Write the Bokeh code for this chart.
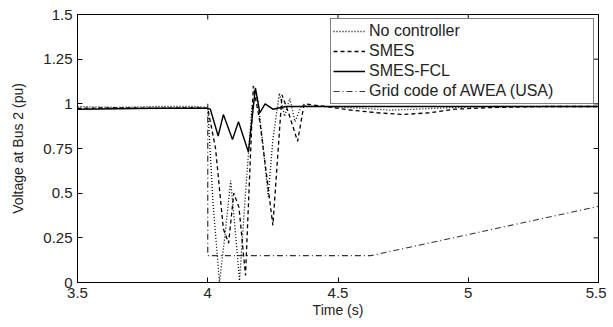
import math
from bokeh.plotting import figure
from bokeh.models import Legend, LegendItem, FixedTicker, Range1d
from bokeh.embed import file_html
from bokeh.resources import INLINE

# ---- data ----
nc_t = [3.5, 3.65, 3.8, 3.95, 4.0, 4.02, 4.045, 4.065, 4.088, 4.105, 4.122, 4.145,
        4.17, 4.19, 4.21, 4.232, 4.25, 4.275, 4.295, 4.315, 4.335, 4.36, 4.45,
        4.6, 4.7, 4.8, 4.95, 5.1, 5.3, 5.5]
nc_v = [0.985, 0.98, 0.985, 0.985, 0.98, 0.45, 0.0, 0.25, 0.57, 0.3, 0.01, 0.5,
        0.99, 1.04, 0.8, 0.48, 0.8, 1.06, 0.93, 1.03, 0.9, 0.99, 0.985,
        0.975, 0.965, 0.97, 0.98, 0.985, 0.985, 0.985]

smes_t = [3.5, 3.65, 3.8, 3.95, 4.0, 4.03, 4.06, 4.08, 4.1, 4.12, 4.145, 4.175,
          4.2, 4.25, 4.285, 4.31, 4.345, 4.37, 4.45, 4.55, 4.65, 4.75, 4.85,
          4.95, 5.1, 5.3, 5.5]
smes_v = [0.975, 0.978, 0.975, 0.978, 0.975, 0.75, 0.3, 0.22, 0.5, 0.42, 0.04, 1.1,
          0.9, 0.32, 1.05, 0.95, 0.79, 1.0, 0.985, 0.965, 0.95, 0.94, 0.95,
          0.97, 0.98, 0.985, 0.985]

fcl_t = [3.5, 3.8, 4.0, 4.01, 4.04, 4.06, 4.095, 4.118, 4.156, 4.183, 4.2, 4.22,
         4.25, 4.3, 4.5, 5.0, 5.5]
fcl_v = [0.97, 0.975, 0.975, 0.97, 0.82, 0.94, 0.80, 0.90, 0.73, 1.09, 0.95, 1.0,
         0.97, 0.985, 0.985, 0.985, 0.985]

grid_t = [4.0, 4.0, 4.625, 5.5]
grid_v = [1.0, 0.15, 0.15, 0.426]

x_ticks = [3.5, 4, 4.5, 5, 5.5]
x_labels = ["3.5", "4", "4.5", "5", "5.5"]
y_ticks = [0, 0.25, 0.5, 0.75, 1, 1.25, 1.5]
y_labels = ["0", "0.25", "0.5", "0.75", "1", "1.25", "1.5"]

series_names = ["No controller", "SMES", "SMES-FCL", "Grid code of AWEA (USA)"]

FONT = "Liberation Sans"
X0, X1, Y0, Y1 = 3.5, 5.5, 0, 1.5

p = figure(width=606, height=320, output_backend="svg", toolbar_location=None,
           x_range=Range1d(X0, X1), y_range=Range1d(Y0, Y1),
           min_border_left=77, min_border_right=8, min_border_top=14,
           min_border_bottom=35, x_axis_label="Time (s)",
           y_axis_label="Voltage at Bus 2 (pu)")
p.grid.visible = False
p.outline_line_color = "black"
p.outline_line_width = 1
p.background_fill_color = "white"
p.border_fill_color = "white"

def style_axis(ax, ticks, labels):
    ax.ticker = FixedTicker(ticks=ticks)
    ax.major_label_overrides = {t: l for t, l in zip(ticks, labels)}
    ax.major_tick_in = 5
    ax.major_tick_out = 0
    ax.minor_tick_line_color = None
    ax.axis_line_color = "black"
    ax.major_tick_line_color = "black"
    ax.major_label_text_font = FONT
    ax.major_label_text_color = "#222222"
    ax.major_label_text_font_size = "15px"
    ax.axis_label_text_font = FONT
    ax.axis_label_text_font_style = "normal"
    ax.axis_label_text_color = "#222222"
    ax.axis_label_text_font_size = "14px"

style_axis(p.xaxis[0], x_ticks, x_labels)
style_axis(p.yaxis[0], y_ticks, y_labels)
p.xaxis[0].major_label_standoff = 5
p.xaxis[0].axis_label_standoff = 1
p.yaxis[0].major_label_standoff = 5
p.yaxis[0].axis_label_standoff = 14

# inward ticks on the top and right edges of the box (half of each dash is clipped by the frame)
p.scatter([X1] * len(y_ticks), y_ticks, marker="dash", size=10, line_color="black", line_width=1)
p.scatter(x_ticks, [Y1] * len(x_ticks), marker="dash", size=10, angle=math.pi / 2,
          line_color="black", line_width=1)

r_nc = p.line(nc_t, nc_v, line_color="black", line_width=1.3, line_dash="1 2")
r_smes = p.line(smes_t, smes_v, line_color="black", line_width=1.3, line_dash="4 3")
r_fcl = p.line(fcl_t, fcl_v, line_color="black", line_width=1.4)
r_grid = p.line(grid_t, grid_v, line_color="#333333", line_width=1.2, line_dash="6 3 1 3")

legend = Legend(items=[LegendItem(label=n, renderers=[r]) for n, r in
                       zip(series_names, [r_nc, r_smes, r_fcl, r_grid])],
                location="top_right")
legend.label_text_font = FONT
legend.label_text_font_size = "16px"
legend.label_text_color = "#222222"
legend.label_height = 20
legend.glyph_height = 20
legend.glyph_width = 32
legend.label_width = 222
legend.label_standoff = 4
legend.spacing = 0
legend.padding = 2
legend.margin = 4
legend.border_line_color = "black"
legend.border_line_width = 1
legend.background_fill_alpha = 1
p.add_layout(legend, "center")

open("out.html", "w").write(file_html(p, INLINE))
